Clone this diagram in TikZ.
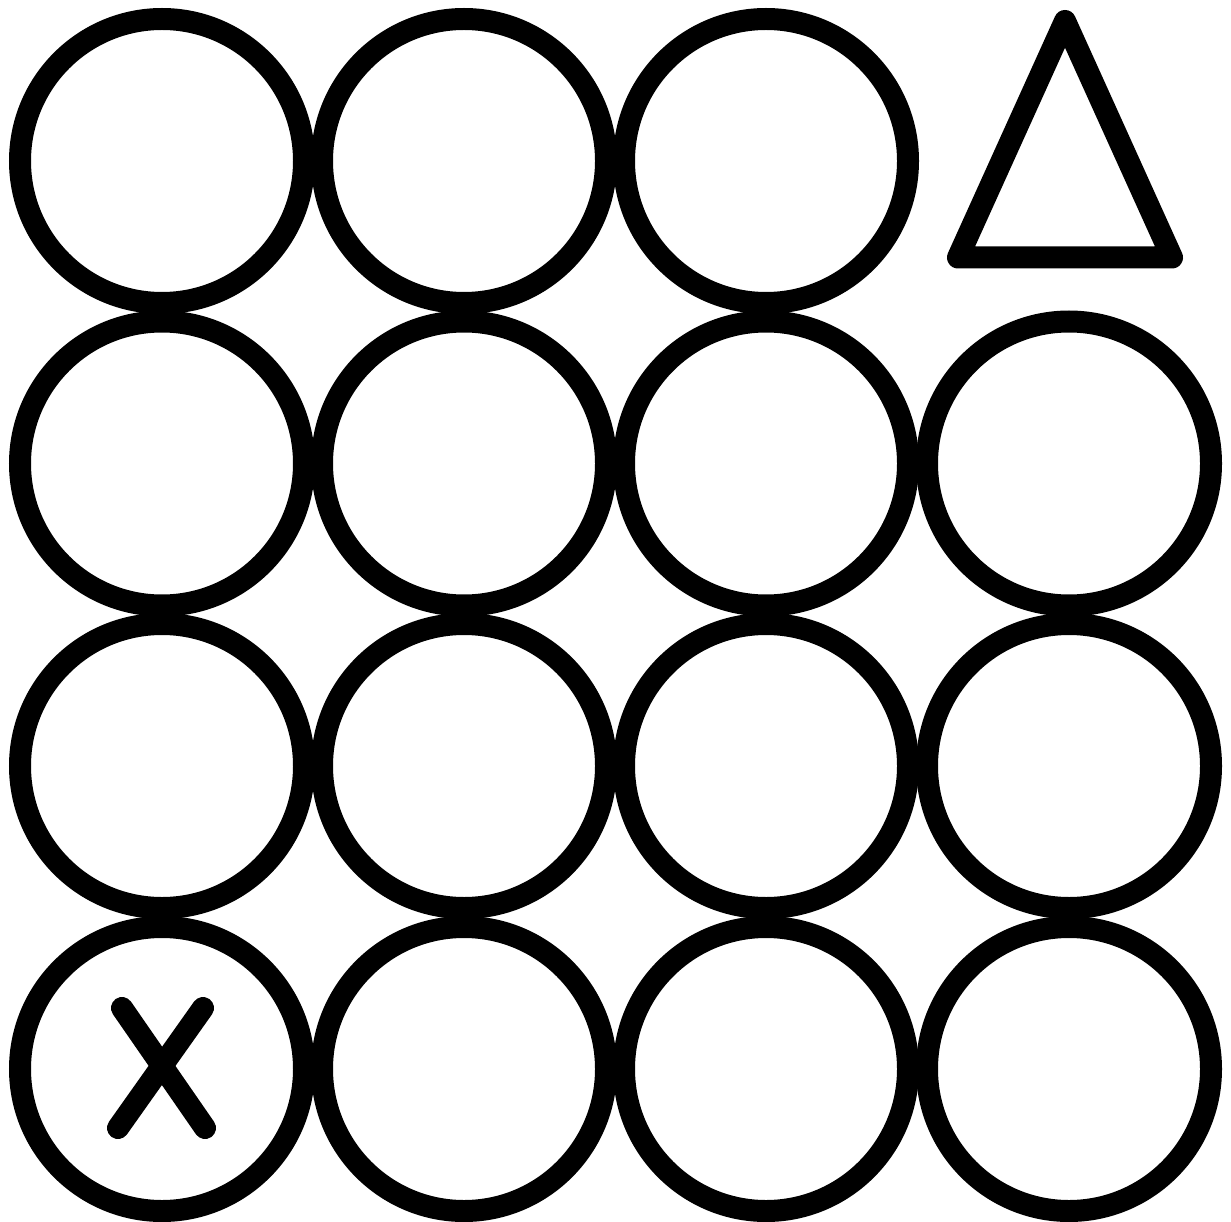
\documentclass[tikz,border=0pt]{standalone}
\begin{document}
\begin{tikzpicture}[x=1pt,y=-1pt,
  ring/.style={circle,draw=black,line width=22pt,inner sep=0pt,minimum size=284pt},
  mark stroke/.style={draw=black,line width=22pt,line cap=round,line join=round}]
\useasboundingbox (0,0) rectangle (1231,1222);
\fill[white] (0,0) rectangle (1231,1222);
% row 1
\node[ring] (c11) at (162,161) {};
\node[ring] (c12) at (464,161) {};
\node[ring] (c13) at (766,161) {};
% triangle
\coordinate (tA) at (1065,21);
\coordinate (tB) at (958,257.5);
\coordinate (tC) at (1172,257.5);
\draw[mark stroke] (tA) -- (tB) -- (tC) -- cycle;
% row 2
\node[ring] (c21) at (162,463.5) {};
\node[ring] (c22) at (464,463.5) {};
\node[ring] (c23) at (766,463.5) {};
\node[ring] (c24) at (1069,463.5) {};
% row 3
\node[ring] (c31) at (162,766) {};
\node[ring] (c32) at (464,766) {};
\node[ring] (c33) at (766,766) {};
\node[ring] (c34) at (1069,766) {};
% row 4
\node[ring] (c41) at (162,1069) {};
\node[ring] (c42) at (464,1069) {};
\node[ring] (c43) at (766,1069) {};
\node[ring] (c44) at (1069,1069) {};
% X mark
\coordinate (x1) at (122,1008);
\coordinate (x2) at (205,1128);
\coordinate (x3) at (203,1008);
\coordinate (x4) at (118,1128);
\draw[mark stroke] (x1) -- (x2);
\draw[mark stroke] (x3) -- (x4);
\end{tikzpicture}
\end{document}
